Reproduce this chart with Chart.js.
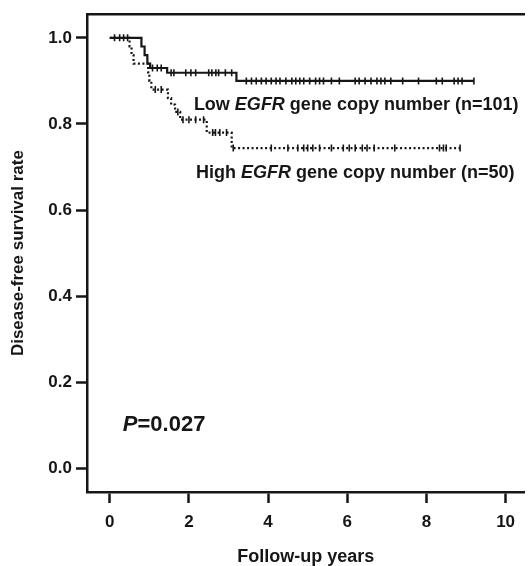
<!DOCTYPE html>
<html lang="en">
<head>
<meta charset="UTF-8">
<title>Disease-free survival by EGFR gene copy number</title>
<script src="https://cdn.jsdelivr.net/npm/chart.js"></script>
<style>
  body { margin: 0; background: #fff; }
</style>
</head>
<body>
<canvas id="dfsChart" width="530" height="566"></canvas>
<script>
// Kaplan-Meier steps (time in years, survival after the event)
const lowTimes = [0, 0.8, 0.88, 0.95, 1.02, 1.45, 3.2];
const lowSurv  = [1, 0.98, 0.96, 0.94, 0.93, 0.919, 0.90];
const lowEnd = 9.2;
const highTimes = [0, 0.5, 0.55, 0.6, 0.97, 1.0, 1.05, 1.47, 1.55, 1.65, 1.78, 2.45, 3.08];
const highSurv  = [1, 0.98, 0.96, 0.94, 0.92, 0.90, 0.88, 0.86, 0.845, 0.828, 0.81, 0.78, 0.744];
const highEnd = 8.85;

// censored cases (+ marks)
const lowCensor = [0.35, 0.45, 1.08, 1.2, 1.3, 1.55, 1.62, 1.92, 2.05, 2.17, 2.5, 2.58, 2.68, 2.75,
  2.92, 3.08, 3.45, 3.58, 3.7, 3.83, 3.95, 4.08, 4.2, 4.3, 4.45, 4.6, 4.7, 4.8, 4.9, 5.05, 5.2,
  5.3, 5.4, 5.6, 5.8, 6.2, 6.3, 6.45, 6.6, 6.75, 6.85, 6.95, 7.1, 7.4, 7.8, 8.25, 8.4, 8.7, 8.8,
  8.9, 9.2];
const highCensor = [0.12, 0.25, 1.15, 1.3, 1.72, 1.85, 2.0, 2.17, 2.37, 2.6, 2.67, 2.78, 2.95,
  3.12, 4.08, 4.5, 4.75, 4.9, 5.0, 5.13, 5.3, 5.6, 5.9, 6.05, 6.2, 6.38, 6.5, 6.68, 7.2, 8.33,
  8.43, 8.5, 8.85];

const xTicks = [0, 2, 4, 6, 8, 10];
const yTicks = [0, 0.2, 0.4, 0.6, 0.8, 1.0];

const FONT = '"Liberation Sans", Arial, sans-serif';
const INK = '#161616';

function curve(times, surv, end) {
    const pts = times.map((t, i) => ({ x: t, y: surv[i] }));
    pts.push({ x: end, y: surv[surv.length - 1] });
    return pts;
}

function survAt(times, surv, t) {
    let s = surv[0];
    times.forEach((tt, i) => { if (tt <= t) s = surv[i]; });
    return s;
}

function marks(list, times, surv) {
    return list.map(t => ({ x: t, y: survAt(times, surv, t) }));
}

// labels inside the plot
const notes = [
    { x: 2.125, y: 0.844, size: 18, parts: [['Low ', false], ['EGFR', true], [' gene copy number (n=101)', false]] },
    { x: 2.18, y: 0.686, size: 18, parts: [['High ', false], ['EGFR', true], [' gene copy number (n=50)', false]] },
    { x: 0.33, y: 0.10, size: 22, parts: [['P', true], ['=0.027', false]] }
];

const notePlugin = {
    id: 'notes',
    afterDatasetsDraw(chart) {
        const { ctx, scales: { x, y } } = chart;
        ctx.save();
        ctx.fillStyle = INK;
        ctx.textBaseline = 'middle';
        notes.forEach(n => {
            let px = x.getPixelForValue(n.x);
            const py = y.getPixelForValue(n.y);
            n.parts.forEach(([text, italic]) => {
                ctx.font = (italic ? 'italic ' : '') + 'bold ' + n.size + 'px ' + FONT;
                ctx.fillText(text, px, py);
                px += ctx.measureText(text).width;
            });
        });
        ctx.restore();
    }
};

const markStyle = {
    showLine: false,
    pointStyle: 'line',
    pointRotation: 90,
    pointRadius: 3.5,
    pointBorderWidth: 1.6,
    borderColor: INK
};

new Chart(document.getElementById('dfsChart'), {
    type: 'line',
    data: {
        datasets: [
            {
                label: 'Low EGFR',
                data: curve(lowTimes, lowSurv, lowEnd),
                stepped: true,
                borderColor: INK,
                borderWidth: 2.2,
                pointRadius: 0
            },
            {
                label: 'High EGFR',
                data: curve(highTimes, highSurv, highEnd),
                stepped: true,
                borderColor: INK,
                borderWidth: 2.2,
                borderDash: [2, 2.5],
                pointRadius: 0
            },
            Object.assign({ label: 'Low censored', data: marks(lowCensor, lowTimes, lowSurv) }, markStyle),
            Object.assign({ label: 'High censored', data: marks(highCensor, highTimes, highSurv) }, markStyle)
        ]
    },
    options: {
        responsive: false,
        animation: false,
        layout: { padding: { left: 0, right: 1, top: 0, bottom: 0 } },
        plugins: {
            legend: { display: false },
            tooltip: { enabled: false }
        },
        scales: {
            x: {
                type: 'linear',
                position: 'bottom',
                min: -0.575,
                max: 10.475,
                afterBuildTicks: s => { s.ticks = xTicks.map(v => ({ value: v })); },
                afterFit: s => { s.height = 74; },
                grid: { drawOnChartArea: false, drawTicks: true, tickLength: 11, tickWidth: 2.5, color: INK },
                border: { display: true, width: 2.5, color: INK },
                ticks: { font: { family: FONT, size: 17, weight: 'bold' }, color: INK, padding: 9 },
                title: {
                    display: true,
                    text: 'Follow-up years',
                    color: INK,
                    font: { family: FONT, size: 18, weight: 'bold', lineHeight: 1 },
                    padding: { top: 0, bottom: 0 }
                }
            },
            top: {
                type: 'linear',
                position: 'top',
                min: -0.575,
                max: 10.475,
                afterFit: s => { s.height = 13; },
                grid: { display: false },
                ticks: { display: false },
                border: { display: true, width: 2.5, color: INK }
            },
            y: {
                type: 'linear',
                min: -0.055,
                max: 1.055,
                afterBuildTicks: s => { s.ticks = yTicks.map(v => ({ value: v })); },
                afterFit: s => { s.width = 87; },
                grid: { drawOnChartArea: false, drawTicks: true, tickLength: 11, tickWidth: 2.5, color: INK },
                border: { display: true, width: 2.5, color: INK },
                ticks: {
                    font: { family: FONT, size: 17, weight: 'bold' },
                    color: INK,
                    padding: 4,
                    callback: v => v.toFixed(1)
                },
                title: {
                    display: true,
                    text: 'Disease-free survival rate',
                    color: INK,
                    font: { family: FONT, size: 17, weight: 'bold', lineHeight: 1 },
                    padding: { top: 9.5, bottom: 0 }
                }
            }
        }
    },
    plugins: [notePlugin]
});
</script>
</body>
</html>
